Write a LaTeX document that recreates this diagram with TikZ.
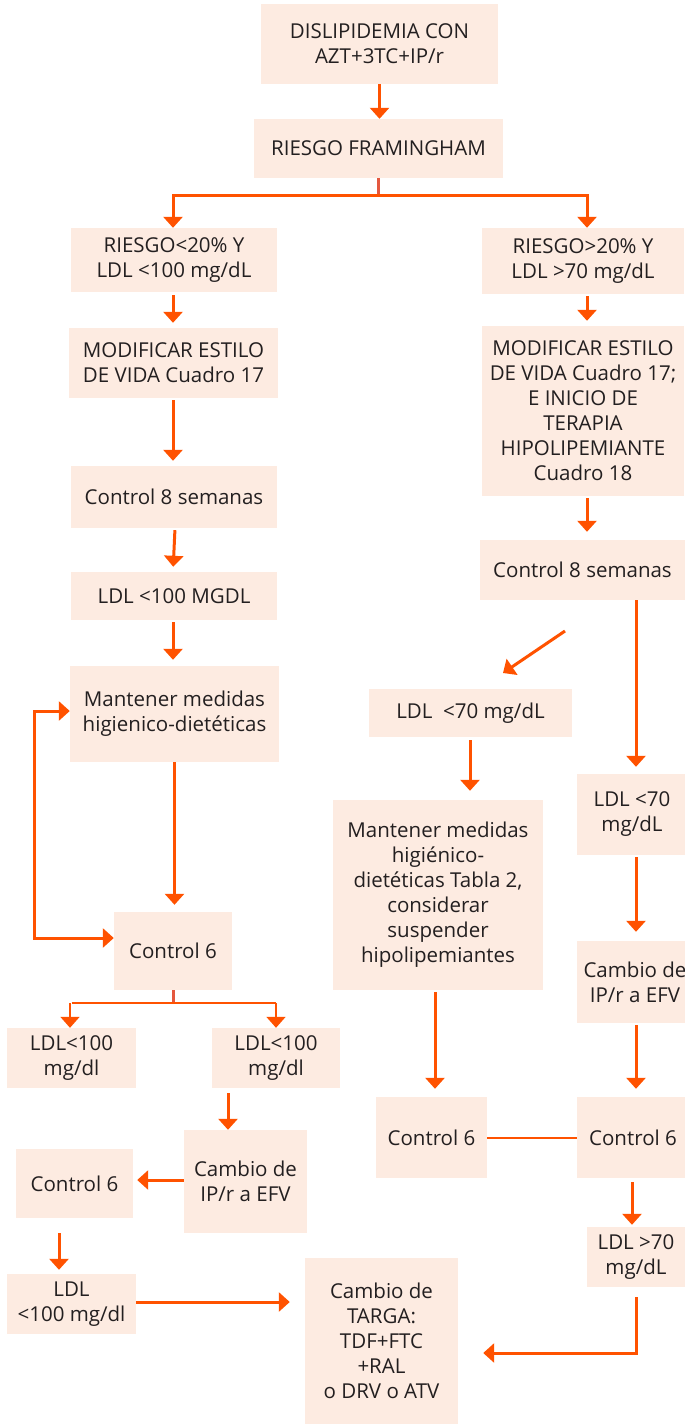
\documentclass[tikz,border=0pt]{standalone}
\usepackage{fontspec}
\setmainfont{Open Sans}
\usetikzlibrary{arrows.meta,calc}
\definecolor{BoxPeach}{HTML}{FDEBE1}
\definecolor{FlowOrange}{HTML}{FF5200}
\definecolor{StemRed}{HTML}{E4583F}
\definecolor{InkGray}{HTML}{231F20}

\begin{document}
\begin{tikzpicture}[x=1pt,y=-1pt,
    box/.style={fill=BoxPeach,text=InkGray,align=center,inner sep=0pt,
      font=\fontsize{20.5}{25}\selectfont},
    arr/.style={FlowOrange,line width=3pt,-{Triangle[width=19pt,length=11pt]}},
    dbl/.style={FlowOrange,line width=3pt,{Triangle[width=19pt,length=11pt]}-{Triangle[width=19pt,length=11pt]}},
    stem/.style={StemRed,line width=3pt},
    link/.style={FlowOrange,line width=2pt}]
   \useasboundingbox (0,0) rectangle (685,1424);

   % top
   \node[box,minimum width=237,minimum height=80] (dis) at (379.5,44) {DISLIPIDEMIA CON\\AZT+3TC+IP/r};
   \node[box,minimum width=249,minimum height=59] (fram) at (378.5,148.5) {RIESGO FRAMINGHAM};

   % left column
   \node[box,minimum width=206,minimum height=64] (rlow) at (174,260) {RIESGO<20\% Y\\LDL <100 mg/dL};
   \node[box,minimum width=209,minimum height=70] (estA) at (173.5,363) {MODIFICAR ESTILO\\ DE VIDA Cuadro 17};
   \node[box,minimum width=206,minimum height=62] (ctlA) at (174,497) {Control 8 semanas};
   \node[box,minimum width=206,minimum height=48] (ldlA) at (174,596) {LDL <100 MGDL};
   \node[box,minimum width=209,minimum height=96] (mantA) at (174.5,714) {Mantener medidas\\higienico-dietéticas};
   \node[box,minimum width=118,minimum height=78] (ctlSixA) at (173,951) {Control 6};
   \node[box,minimum width=129,minimum height=60] (ldlL) at (71.5,1058) {LDL<100\\mg/dl};
   \node[box,minimum width=128,minimum height=60] (ldlR) at (276,1058) {LDL<100\\mg/dl};
   \node[box,minimum width=123,minimum height=103] (cambA) at (245.5,1181.5) {Cambio de\\IP/r a EFV};
   \node[box,minimum width=117,minimum height=69] (ctlSixB) at (74.5,1183.5) {Control 6};
   \node[box,minimum width=129,minimum height=60] (ldlB) at (71.5,1304) {LDL\\<100 mg/dl};
   \node[box,minimum width=153,minimum height=166] (targa) at (381.5,1341) {Cambio de\\TARGA:\\TDF+FTC\\+RAL\\o DRV o ATV};

   % right column
   \node[box,minimum width=202,minimum height=66] (rhigh) at (583,261) {RIESGO>20\% Y\\LDL >70 mg/dL};
   \node[box,minimum width=202,minimum height=170] (estB) at (583,411) {MODIFICAR ESTILO\\DE VIDA Cuadro 17;\\E INICIO DE\\TERAPIA\\HIPOLIPEMIANTE\\Cuadro 18};
   \node[box,minimum width=205,minimum height=60] (ctlB) at (582.5,570) {Control 8 semanas};
   \node[box,minimum width=203,minimum height=48] (ldlSeventy) at (470.5,713) {LDL\ \ <70 mg/dL};
   \node[box,minimum width=210,minimum height=190] (mantB) at (438,895) {Mantener medidas\\higiénico-\\dietéticas Tabla 2,\\considerar\\suspender\\hipolipemiantes};
   \node[box,minimum width=110,minimum height=81] (ldlSevR) at (632,814.5) {LDL <70\\mg/dL};
   \node[box,minimum width=116,minimum height=82] (cambB) at (635,982) {Cambio de\\IP/r a EFV};
   \node[box,minimum width=112,minimum height=81] (ctlSixC) at (633,1137.5) {Control 6};
   \node[box,minimum width=111,minimum height=81] (ctlSixD) at (431.5,1137.5) {Control 6};
   \node[box,minimum width=98,minimum height=60] (ldlSevB) at (636,1257) {LDL >70\\mg/dL};

   \coordinate (brTop) at (0,195);
   \coordinate (brMid) at (0,1003);
   \coordinate (dgS) at (565,631);
   \coordinate (dgE) at (503,673);

   % connectors
   \draw[arr] (dis.south) -- (dis.south |- fram.north);
   \draw[stem] (fram.south) -- (fram.south |- brTop);
   \draw[arr] (fram.south |- brTop) -| ([xshift=-1pt]rlow.north);
   \draw[arr] (fram.south |- brTop) -| ([xshift=4pt]rhigh.north);
   \draw[arr,shorten <=3pt,shorten >=5pt] ([xshift=-1pt]rlow.south) -- ([xshift=-1pt]rlow.south |- estA.north);
   \draw[arr,shorten <=2pt,shorten >=5pt] ([xshift=-0.5pt]estA.south) -- ([xshift=-0.5pt]estA.south |- ctlA.north);
   \draw[arr,shorten <=2pt,shorten >=5pt] ([xshift=1pt]ctlA.south) -- ([xshift=-1pt]ldlA.north);
   \draw[arr,shorten <=2pt,shorten >=6pt] ([xshift=-1pt]ldlA.south) -- ([xshift=-1pt]ldlA.south |- mantA.north);
   \draw[arr,shorten >=7pt] (mantA.south) -- (mantA.south |- ctlSixA.north);
   \draw[dbl] ([yshift=13pt]ctlSixA.west) -- ++(-79,0) |- ([yshift=3pt]mantA.west);
   \draw[stem] (ctlSixA.south) -- (ctlSixA.south |- brMid);
   \draw[link] (ldlL.north |- brMid) -- (ldlR.north |- brMid);
   \draw[arr,line width=2pt] ([xshift=-1.5pt]ldlL.north |- brMid) -- ([xshift=-1.5pt]ldlL.north);
   \draw[arr,line width=2pt] (ldlR.north |- brMid) -- (ldlR.north);
   \draw[arr,shorten <=5pt] ([xshift=-48pt]ldlR.south) -- ([xshift=-17.5pt]cambA.north);
   \draw[arr,shorten >=4pt] ([yshift=1.5pt]cambA.west) -- ([yshift=1.5pt]cambA.west -| ctlSixB.east);
   \draw[arr,shorten <=15pt,shorten >=4pt] ([xshift=-15.5pt]ctlSixB.south) -- ([xshift=-12.5pt]ldlB.north);
   \draw[arr,shorten >=15pt] ([yshift=2pt]ldlB.east) -- ([yshift=2pt]ldlB.east -| targa.west);

   \draw[arr,shorten <=2pt,shorten >=5pt] ([xshift=4pt]rhigh.south) -- ([xshift=4pt]rhigh.south |- estB.north);
   \draw[arr,shorten <=2pt,shorten >=8pt] ([xshift=4pt]estB.south) -- ([xshift=4pt]estB.south |- ctlB.north);
   \draw[arr] (dgS) -- (dgE);
   \draw[arr,shorten >=7pt] ([xshift=53.5pt]ctlB.south) -- ([xshift=4pt]ldlSevR.north);
   \draw[arr,shorten <=3pt,shorten >=9pt] ([xshift=-0.5pt]ldlSeventy.south) -- ([xshift=-0.5pt]ldlSeventy.south |- mantB.north);
   \draw[arr,shorten <=2pt,shorten >=8pt] ([xshift=-3pt]mantB.south) -- ([xshift=3.5pt]ctlSixD.north);
   \draw[link] (ctlSixD.east) -- (ctlSixC.west);
   \draw[arr,shorten <=2pt,shorten >=9pt] ([xshift=4pt]ldlSevR.south) -- ([xshift=1pt]cambB.north);
   \draw[arr,shorten <=2pt,shorten >=8pt] ([xshift=1pt]cambB.south) -- ([xshift=3pt]ctlSixC.north);
   \draw[arr,shorten <=4pt,shorten >=2pt] ([xshift=-1pt]ctlSixC.south) -- ([xshift=-4pt]ldlSevB.north);
   \draw[arr,shorten >=25pt] ([yshift=-10pt]ldlSevB.south) |- ([yshift=-12pt]targa.east);
\end{tikzpicture}
\end{document}
